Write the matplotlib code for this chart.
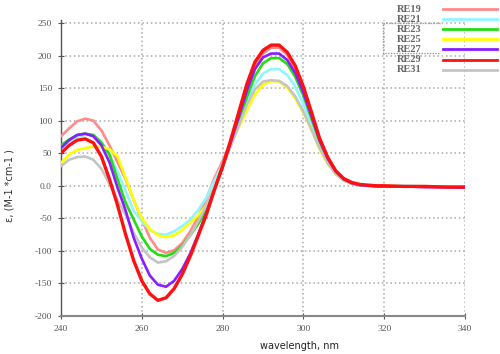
import numpy as np
import matplotlib
matplotlib.use("Agg")
import matplotlib.pyplot as plt
from matplotlib.lines import Line2D

# wavelength grid (nm)
wl = [240, 242, 244, 246, 248, 250, 252, 254, 256, 258, 260, 262, 264, 266, 268,
      270, 272, 274, 276, 278, 280, 282, 284, 286, 288, 290, 292, 294, 296, 298,
      300, 302, 304, 306, 308, 310, 312, 314, 316, 318, 320, 325, 330, 335, 340]

re19 = [76, 88, 99, 103, 100, 85, 62, 36, 10, -22, -52, -80, -98, -103, -99,
        -88, -70, -47, -20, 12, 38, 66, 104, 146, 182, 203, 212, 212, 201, 178,
        146, 108, 70, 40, 20, 9, 4, 1, 0, 0, -1, -1, -2, -2, -2]
re21 = [58, 68, 75, 78, 78, 68, 48, 22, -8, -38, -55, -68, -74, -75, -70,
        -62, -52, -37, -18, 8, 34, 62, 95, 128, 155, 172, 179, 179, 170, 152,
        125, 95, 62, 37, 19, 9, 3, 1, 0, 0, -1, 0, -1, -1, -2]
re23 = [62, 71, 78, 80, 78, 66, 48, 10, -26, -52, -78, -97, -106, -108, -103,
        -92, -76, -58, -37, -5, 28, 62, 98, 136, 168, 188, 196, 196, 187, 167,
        138, 103, 68, 40, 20, 9, 4, 1, 0, 0, -1, -1, -1, -2, -2]
re25 = [35, 48, 55, 58, 60, 60, 56, 45, 12, -22, -50, -66, -76, -79, -76,
        -68, -57, -45, -30, -2, 30, 62, 90, 115, 140, 155, 161, 160, 151, 134,
        112, 86, 56, 34, 18, 8, 3, 1, 0, 0, 0, -1, -1, -1, -2]
re27 = [58, 70, 78, 80, 76, 62, 36, -3, -38, -80, -112, -138, -152, -155, -146,
        -128, -104, -74, -41, -5, 29, 66, 106, 146, 179, 197, 203, 203, 193, 173,
        143, 107, 70, 42, 22, 10, 4, 1, 0, -1, -1, -1, -2, -2, -3]
re29 = [50, 62, 70, 72, 66, 45, 10, -30, -75, -115, -146, -166, -176, -172, -158,
        -136, -108, -76, -44, -6, 30, 70, 113, 156, 190, 208, 216, 216, 205, 184,
        152, 113, 73, 44, 23, 11, 5, 2, 1, 0, 0, -1, -1, -2, -2]
re31 = [30, 40, 44, 45, 40, 26, 3, -22, -45, -72, -95, -110, -118, -116, -108,
        -94, -76, -54, -30, -2, 30, 60, 92, 124, 148, 160, 162, 161, 153, 137,
        114, 86, 58, 35, 18, 8, 3, 1, 0, 0, -1, -1, -1, -2, -2]

names = ["RE19", "RE21", "RE23", "RE25", "RE27", "RE29", "RE31"]
series = [re19, re21, re23, re25, re27, re29, re31]
colors = ["#ff8a8a", "#8ff6ff", "#22dd11", "#ffff00", "#8a1cff", "#ff1010", "#c4c4c4"]
widths = [1.9, 1.9, 1.9, 1.9, 1.9, 2.4, 1.9]
zorders = [3, 3, 3, 4, 5, 7, 4]

fig = plt.figure(figsize=(5.0, 3.54), dpi=100)
ax = fig.add_axes([0.122, 0.1073, 0.808, 0.8371])

for n, s, c, w, z in zip(names, series, colors, widths, zorders):
    ax.plot(wl, s, color=c, lw=w, zorder=z, solid_capstyle="round")

ax.set_xlim(240, 340)
ax.set_ylim(-200, 255)
ax.set_xticks([240, 260, 280, 300, 320, 340])
ax.set_yticks([-200, -150, -100, -50, 0, 50, 100, 150, 200, 250])
ax.set_yticklabels(["-200", "-150", "-100", "-50", "0.0", "50", "100", "150", "200", "250"])

for sp in ["top", "right"]:
    ax.spines[sp].set_visible(False)
ax.spines["left"].set_color("#555555")
ax.spines["left"].set_linewidth(1.0)
ax.spines["bottom"].set_color("#888888")
ax.spines["bottom"].set_linestyle((0, (1.2, 1.0)))
ax.spines["bottom"].set_linewidth(1.5)

ax.grid(True, color="#a8a8a8", linestyle=(0, (1.0, 1.8)), linewidth=1.1)
ax.set_axisbelow(True)
ax.tick_params(direction="inout", length=5, width=0.8, color="#555555",
               labelsize=6.8, labelcolor="#555555", pad=4)
for lab in ax.get_xticklabels() + ax.get_yticklabels():
    lab.set_family("Liberation Serif")

ax.set_xlabel("wavelength, nm", fontsize=7, color="#222222")
ax.xaxis.set_label_coords(0.59, -0.085)
ax.set_ylabel("ε, (M-1 *cm-1 )", fontsize=7, color="#333333")
ax.yaxis.set_label_coords(-0.115, 0.44)

# legend drawn at the top right
leg_y = [9.3, 19.3, 29.3, 39.4, 49.4, 60.0, 70.0]
for n, c, ypx in zip(names, colors, leg_y):
    yf = 1 - ypx / 354
    fig.text(397 / 500, yf, n, fontsize=7.5, family="Liberation Serif",
             fontweight="bold", color="#666666", va="center", ha="left")
    fig.add_artist(Line2D([443 / 500, 497 / 500], [yf, yf], color=c, lw=2.0,
                          transform=fig.transFigure))

# dotted focus box around part of legend
bx = [440 / 500, 383 / 500, 383 / 500, 440 / 500]
by = [1 - 22.7 / 354, 1 - 22.7 / 354, 1 - 53.3 / 354, 1 - 53.3 / 354]
fig.add_artist(Line2D(bx, by, color="#999999", lw=1.0, linestyle=(0, (1, 1)),
                      transform=fig.transFigure))

fig.savefig("out.png", dpi=100)
